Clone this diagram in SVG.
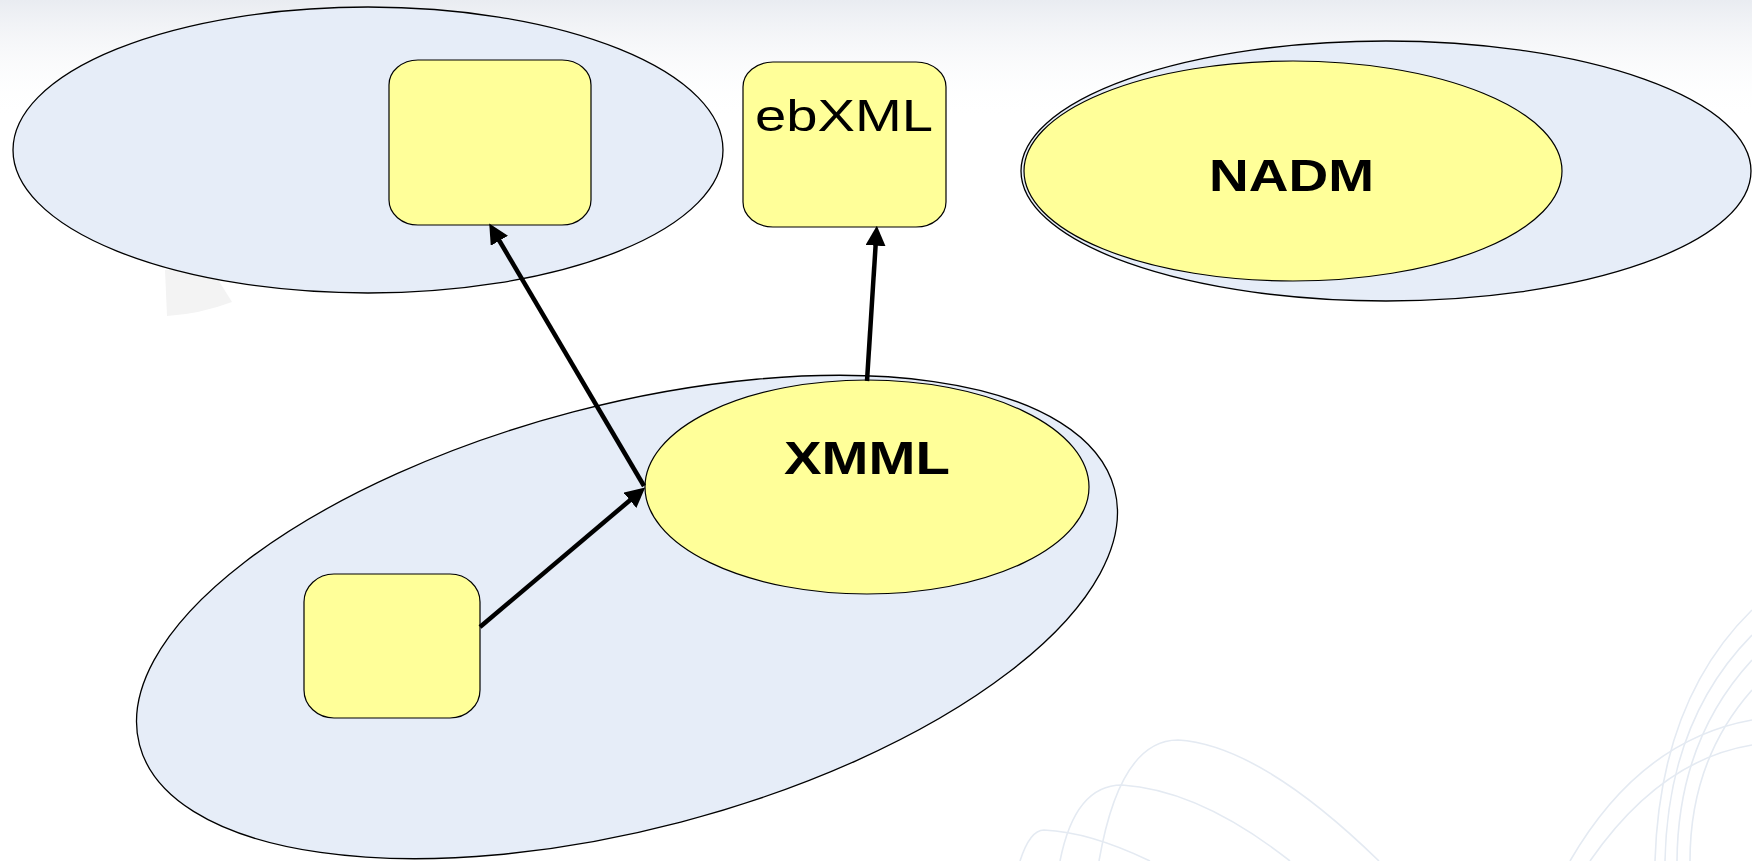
<svg xmlns="http://www.w3.org/2000/svg" width="1752" height="861" viewBox="0 0 1752 861">
<style>
.group{fill:#e6edf8;stroke:#000;stroke-width:1.3}
.node{fill:#ffff99;stroke:#000;stroke-width:1.2}
.lbl{font-family:"Liberation Sans",Arial,sans-serif;fill:#000}
.b{font-weight:bold}
.conn{stroke:#000;stroke-width:4.5;fill:none}
.deco{fill:none;stroke:#e4eaf2;stroke-width:1.6}
</style>
<defs>
<linearGradient id="topg" x1="0" y1="0" x2="0" y2="1">
<stop offset="0" stop-color="#e9ecf1"/>
<stop offset="1" stop-color="#ffffff" stop-opacity="0"/>
</linearGradient>
<marker id="ah" markerUnits="userSpaceOnUse" markerWidth="20" markerHeight="20" viewBox="0 0 18 18" refX="6" refY="9" orient="auto">
<path d="M0,0 L18,9 L0,18 z" fill="#000"/>
</marker>
</defs>
<rect width="1752" height="861" fill="#ffffff"/>
<g id="background">
<rect x="0" y="0" width="1752" height="120" fill="url(#topg)"/>
<path d="M165,270 L212,270 L232,302 Q200,314 167,316 Z" fill="#f3f3f3"/>
<path class="deco" d="M1099,861 Q1120,740 1178,740 Q1260,745 1379,861"/>
<path class="deco" d="M1060,861 Q1075,785 1122,785 Q1200,790 1290,861"/>
<path class="deco" d="M1020,861 Q1030,830 1044,830 Q1090,832 1150,861"/>
<path class="deco" d="M1655,861 Q1660,700 1752,610"/>
<path class="deco" d="M1665,861 Q1668,720 1752,635"/>
<path class="deco" d="M1677,861 Q1678,740 1752,660"/>
<path class="deco" d="M1690,861 Q1690,760 1752,690"/>
<path class="deco" d="M1570,861 Q1640,740 1752,720"/>
<path class="deco" d="M1590,861 Q1660,760 1752,745"/>
</g>
<g id="group-topleft">
<ellipse class="group" cx="368" cy="150" rx="355" ry="143"/>
</g>
<g id="group-nadm">
<ellipse class="group" cx="1386" cy="171" rx="365" ry="130"/>
</g>
<g id="group-xmml">
<ellipse class="group" cx="627" cy="617" rx="504" ry="212" transform="rotate(-14.7 627 617)"/>
</g>
<g id="node-topleft">
<rect class="node" x="389" y="60" width="202" height="165" rx="29" ry="25"/>
</g>
<g id="node-ebxml">
<rect class="node" x="743" y="62" width="203" height="165" rx="30" ry="25"/>
<text class="lbl" x="755" y="131" font-size="44" textLength="178" lengthAdjust="spacingAndGlyphs">ebXML</text>
</g>
<g id="node-nadm">
<ellipse class="node" cx="1293" cy="171" rx="269" ry="110"/>
<text class="lbl b" x="1209" y="191" font-size="44" textLength="165" lengthAdjust="spacingAndGlyphs">NADM</text>
</g>
<g id="node-xmml">
<ellipse class="node" cx="867" cy="487" rx="222" ry="107"/>
<text class="lbl b" x="784" y="474" font-size="47" textLength="166" lengthAdjust="spacingAndGlyphs">XMML</text>
</g>
<g id="node-bottomleft">
<rect class="node" x="304" y="574" width="176" height="144" rx="30" ry="28"/>
</g>
<g id="connectors">
<line class="conn" x1="480" y1="627" x2="635" y2="496" marker-end="url(#ah)"/>
<line class="conn" x1="644" y1="486" x2="496" y2="235" marker-end="url(#ah)"/>
<line class="conn" x1="867" y1="381" x2="876" y2="239" marker-end="url(#ah)"/>
</g>
</svg>
